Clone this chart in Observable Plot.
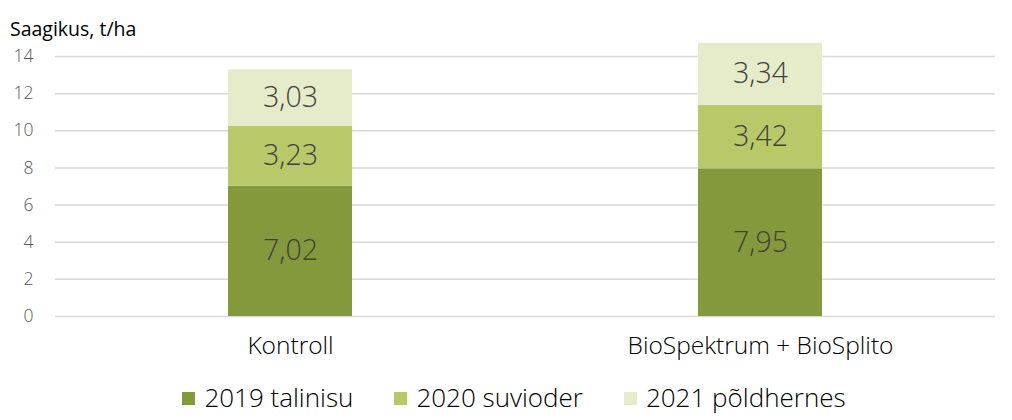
<!DOCTYPE html>
<html>
<head>
<meta charset="utf-8">
<script src="https://cdn.jsdelivr.net/npm/d3@7"></script>
<script src="https://cdn.jsdelivr.net/npm/@observablehq/plot@0.6"></script>
<style>
  html, body { margin: 0; padding: 0; background: #fff; }
  body { width: 1012px; height: 420px; position: relative; font-family: "Open Sans", sans-serif; overflow: hidden; }
  #title { position: absolute; left: 10px; top: 19px; font-size: 19.5px; line-height: 1; color: #000; font-weight: 400; white-space: nowrap; }
  #chart { position: absolute; left: 0; top: 0; }
  #legend { position: absolute; left: 0; top: 384px; width: 1012px; box-sizing: border-box; padding-left: 16px; display: flex; justify-content: center; gap: 41px; font-size: 26px; line-height: 1; font-weight: 300; color: #000; }
  .item { display: flex; align-items: flex-start; white-space: nowrap; }
  .sw { width: 13px; height: 13px; margin-right: 9px; margin-top: 8px; }
</style>
</head>
<body>
<div id="title">Saagikus, t/ha</div>
<div id="chart"></div>
<div id="legend"></div>
<script>
const categories = ["Kontroll", "BioSpektrum + BioSplito"];
const series = ["2019 talinisu", "2020 suvioder", "2021 põldhernes"];
const values2019 = [7.02, 7.95];
const values2020 = [3.23, 3.42];
const values2021 = [3.03, 3.34];
const yTicks = [0, 2, 4, 6, 8, 10, 12, 14];
const colors = ["#84993b", "#b9c96a", "#e6ecca"];

const seriesValues = [values2019, values2020, values2021];
const data = [];
series.forEach((s, si) => {
  categories.forEach((c, ci) => {
    data.push({category: c, series: s, value: seriesValues[si][ci]});
  });
});

const fmt = v => v.toFixed(2).replace(".", ",");

const plot = Plot.plot({
  width: 1012,
  height: 360,
  marginTop: 56,
  marginBottom: 44,
  marginLeft: 55,
  marginRight: 17,
  style: {fontFamily: "'Open Sans', sans-serif", background: "transparent"},
  x: {domain: categories, padding: 0, label: null},
  y: {domain: [0, 14], label: null},
  color: {domain: series, range: colors},
  marks: [
    Plot.gridY(yTicks, {stroke: "#d9d9d9", strokeOpacity: 1, strokeWidth: 1.5}),
    Plot.axisY(yTicks, {tickSize: 0, tickPadding: 22, fontSize: 17.5, fontWeight: 300, fill: "#595959", label: null}),
    Plot.axisX({tickSize: 0, tickPadding: 20, fontSize: 24.5, fontWeight: 300, fill: "#000", label: null}),
    Plot.barY(data, Plot.stackY({x: "category", y: "value", fill: "series", order: series, insetLeft: 173, insetRight: 173})),
    Plot.text(data, Plot.stackY({x: "category", y: "value", z: "series", order: series, text: d => fmt(d.value), fontSize: 28.5, fontWeight: 300, fill: "#404040"}))
  ]
});
document.getElementById("chart").appendChild(plot);

const legend = document.getElementById("legend");
series.forEach((s, i) => {
  const item = document.createElement("div");
  item.className = "item";
  const sw = document.createElement("div");
  sw.className = "sw";
  sw.style.background = colors[i];
  const t = document.createElement("span");
  t.textContent = s;
  item.appendChild(sw);
  item.appendChild(t);
  legend.appendChild(item);
});
</script>
</body>
</html>
